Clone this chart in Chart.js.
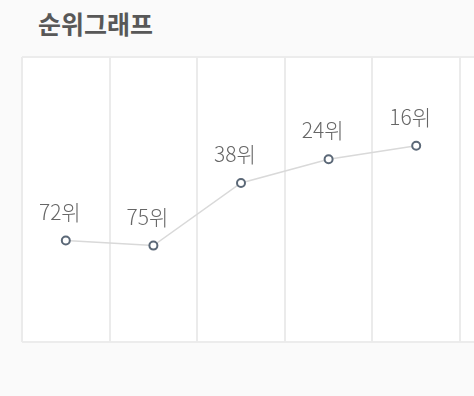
<!DOCTYPE html>
<html>
<head>
<meta charset="utf-8">
<script src="https://cdn.jsdelivr.net/npm/chart.js@4"></script>
<style>
  html, body { margin: 0; padding: 0; background: #fafafa; }
  #wrap { position: relative; width: 474px; height: 396px; }
  #title {
    position: absolute; left: 38px; top: 5px;
    font-family: "Noto Sans CJK KR", sans-serif; font-weight: 700;
    font-size: 25px; color: #585858; letter-spacing: 0px;
  }
  canvas { position: absolute; left: 0; top: 0; }
</style>
</head>
<body>
<div id="wrap">
  <div id="title">순위그래프</div>
  <canvas id="rankChart" width="474" height="396"></canvas>
</div>
<script>
const categories = ['1', '2', '3', '4', '5'];
const ranks = [72, 75, 38, 24, 16];
const rankSuffix = '위';

// white panel + top/bottom border behind the plot
const panelPlugin = {
  id: 'panel',
  beforeDraw(chart) {
    const { ctx, chartArea: a } = chart;
    ctx.save();
    ctx.fillStyle = '#ffffff';
    ctx.fillRect(a.left, a.top, chart.width - a.left, a.bottom - a.top);
    ctx.strokeStyle = '#ececec';
    ctx.lineWidth = 2;
    ctx.beginPath();
    ctx.moveTo(a.left, a.top); ctx.lineTo(chart.width, a.top);
    ctx.moveTo(a.left, a.bottom); ctx.lineTo(chart.width, a.bottom);
    ctx.stroke();
    ctx.restore();
  }
};

const labelPlugin = {
  id: 'rankLabels',
  afterDatasetsDraw(chart) {
    const { ctx } = chart;
    const meta = chart.getDatasetMeta(0);
    ctx.save();
    ctx.font = '300 21px "Noto Sans CJK KR", sans-serif';
    ctx.fillStyle = '#666';
    ctx.textAlign = 'center';
    ctx.textBaseline = 'middle';
    meta.data.forEach((pt, i) => {
      ctx.fillText(ranks[i] + rankSuffix, pt.x - 6, pt.y - 29);
    });
    ctx.restore();
  }
};

new Chart(document.getElementById('rankChart').getContext('2d'), {
  type: 'line',
  data: {
    labels: categories,
    datasets: [{
      data: ranks,
      borderColor: '#d9d9d9',
      borderWidth: 1.5,
      pointRadius: 4,
      pointBorderWidth: 2,
      pointBackgroundColor: '#ffffff',
      pointBorderColor: '#5b6877',
      tension: 0
    }]
  },
  options: {
    responsive: false,
    animation: false,
    layout: { padding: { left: 22, right: 14, top: 57, bottom: 54 } },
    plugins: { legend: { display: false }, tooltip: { enabled: false } },
    scales: {
      x: {
        offset: true,
        grid: { offset: true, color: '#ebebeb', lineWidth: 2, drawTicks: false },
        border: { display: false },
        ticks: { display: false }
      },
      y: {
        display: false,
        reverse: true,
        min: -36.5,
        max: 132
      }
    }
  },
  plugins: [panelPlugin, labelPlugin]
});
</script>
</body>
</html>
